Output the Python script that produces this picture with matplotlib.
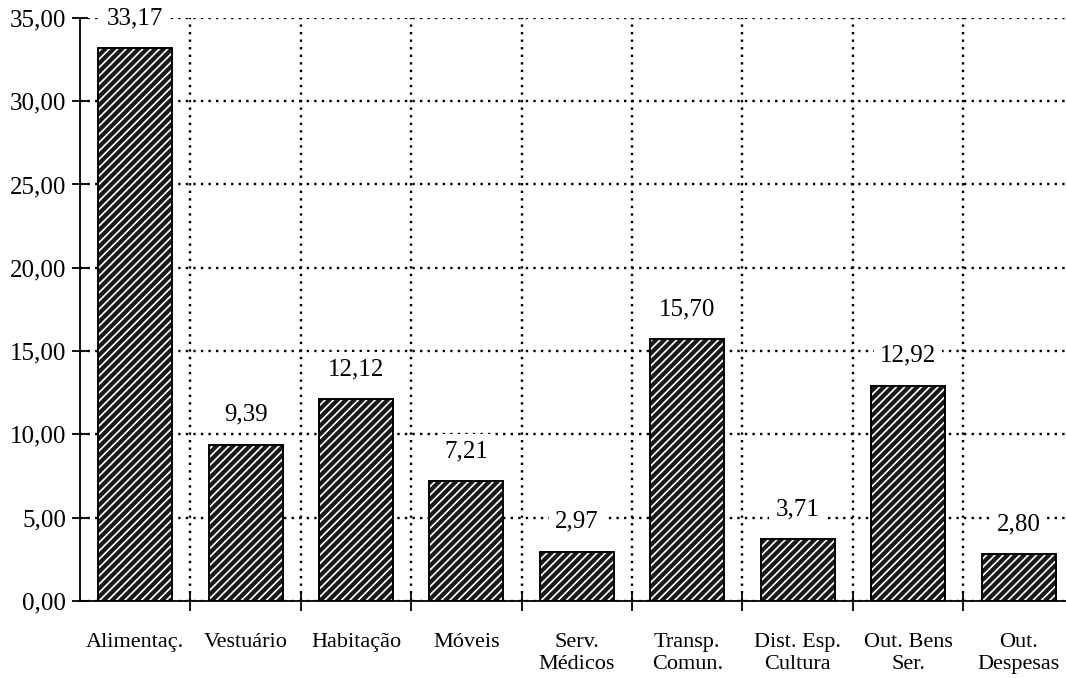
import matplotlib
matplotlib.use('Agg')
import matplotlib.pyplot as plt
import numpy as np

# Categories and values
categories = ["Alimentaç.", "Vestuário", "Habitação", "Móveis", "Serv.\nMédicos",
              "Transp.\nComun.", "Dist. Esp.\nCultura", "Out. Bens\nSer.", "Out.\nDespesas"]
values = [33.17, 9.39, 12.12, 7.21, 2.97, 15.70, 3.71, 12.92, 2.80]
yticks = [0, 5, 10, 15, 20, 25, 30, 35]

plt.rcParams['font.family'] = ['Liberation Serif', 'DejaVu Serif']
plt.rcParams['font.size'] = 18
plt.rcParams['hatch.linewidth'] = 1.2

fig = plt.figure(figsize=(10.66, 6.78), dpi=100)
ax = fig.add_axes([0.075, 0.1136, 0.925, 0.86])

x = np.arange(len(categories))
# hatched fill: dark face with white diagonal lines, then black outline
ax.bar(x, values, width=0.67, color='#1a1a1a', edgecolor='white', hatch='////', linewidth=0, zorder=3)
ax.bar(x, values, width=0.67, color='none', edgecolor='black', linewidth=1.4, zorder=4)

for xi, v in zip(x, values):
    ax.annotate(f"{v:.2f}".replace('.', ','), (xi, v), xytext=(0, 21.5), textcoords='offset points',
                ha='center', va='center', fontsize=18, zorder=5,
                bbox=dict(boxstyle='square,pad=0.25', fc='white', ec='none'))

ax.set_xlim(-0.5, 8.43)
ax.set_ylim(0, 35)
ax.set_yticks(yticks)
ax.set_yticklabels([f"{t:.2f}".replace('.', ',') for t in yticks])

# category boundaries carry the ticks and vertical gridlines
ax.set_xticks(x[1:] - 0.5)
ax.set_xticklabels([])
ax.set_xticks(x, minor=True)
ax.set_xticklabels(categories, minor=True, linespacing=1.25, fontsize=16)
ax.tick_params(axis='x', which='minor', length=0, pad=23)
ax.tick_params(axis='x', which='major', direction='inout', length=14, width=1.3)
ax.tick_params(axis='y', direction='inout', length=12, width=1.3, pad=4)

ax.grid(True, which='major', color='black', linestyle=(0, (1, 2.2)), linewidth=1.7, zorder=0)
ax.set_axisbelow(True)

for s in ['top', 'right']:
    ax.spines[s].set_visible(False)
ax.spines['left'].set_linewidth(1.3)
ax.spines['bottom'].set_linewidth(1.3)

fig.savefig('out.png', dpi=100)
